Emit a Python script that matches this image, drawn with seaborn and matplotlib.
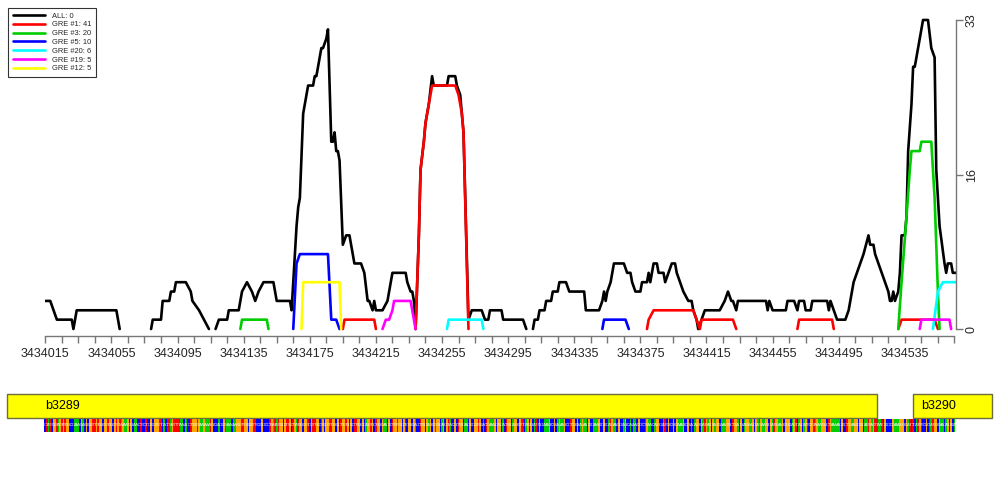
import numpy as np
import pandas as pd
import seaborn as sns
import matplotlib.pyplot as plt

# region start (genomic coordinate) - positions below are offsets from it
START = 3434015
N = None

# coverage per series, None breaks the line
all_pos = [0, 3, 5, 7, 16, 17, 19, 43, 45, N,
           64, 65, 70, 71, 75, 76, 78, 79, 85, 88, 89, 93, 96, 99, N,
           103, 105, 110, 111, 117, 119, 122, 125, 127, 129, 132, 138, 140, 148, 149, 150,
           152, 153, 154, 156, 157, 159, 162, 163, 164, 167, 168, 170, 171, 173, 174, 175,
           176, 177, 178, 180, 182, 184, 187, 191, 193, 195, 196, 198, 199, 200, 204, 207,
           210, 218, 219, 221, 222, 223, 224, 226, 227, 229, 230, 232, 234, 235, 243, 244,
           248, 249, 251, 253, 256, 258, 264, 266, 268, 269, 276, 277, 289, 291, N,
           295, 296, 298, 299, 302, 303, 306, 307, 310, 311, 315, 317, 326, 327, 335, 337,
           338, 339, 340, 342, 344, 350, 352, 354, 355, 357, 360, 361, 364, 365, 366, 367,
           368, 370, 371, 374, 375, 377, 379, 381, 382, 384, 386, 389, 391, 392, 394, 395,
           397, 399, 408, 411, 413, 415, 416, 418, 419, 436, 437, 438, 440, 448, 449, 453,
           455, 456, 459, 460, 463, 464, 473, 474, 475, 477, 479, 484, 486, 488, 489, 491,
           493, 495, 498, 499, 501, 502, 504, 506, 508, 510, 511, 512, 513, 514, 516, 517,
           518, 520, 521, 522, 524, 525, 526, 528, 529, 531, 534, 536, 538, 539, 541, 544,
           545, 546, 548, 549, 551]
all_val = [3, 3, 2, 1, 1, 0, 2, 2, 0, N,
           0, 1, 1, 3, 3, 4, 4, 5, 5, 4, 3, 2, 1, 0, N,
           0, 1, 1, 2, 2, 4, 5, 4, 3, 4, 5, 5, 3, 3, 2, 5,
           11, 13, 14, 23, 24, 26, 26, 27, 27, 30, 30, 31, 32, 20, 20, 21,
           19, 19, 18, 9, 10, 10, 7, 7, 6, 3, 3, 2, 3, 2, 2, 3,
           6, 6, 5, 4, 4, 3, 0, 10, 17, 20, 22, 24, 27, 26, 26, 27,
           27, 26, 25, 21, 1, 2, 2, 1, 1, 2, 2, 1, 1, 0, N,
           0, 1, 1, 2, 2, 3, 3, 4, 4, 5, 5, 4, 4, 2, 2, 3,
           4, 3, 4, 5, 7, 7, 6, 6, 5, 4, 4, 5, 5, 6, 5, 6,
           7, 7, 6, 6, 5, 6, 7, 7, 6, 5, 4, 3, 3, 2, 1, 0,
           1, 2, 2, 3, 4, 3, 3, 2, 3, 3, 2, 3, 2, 2, 3, 3,
           2, 3, 3, 2, 2, 3, 3, 2, 3, 2, 1, 1, 2, 4, 5, 6,
           7, 8, 10, 9, 9, 8, 7, 6, 5, 4, 3, 3, 4, 3, 4, 6,
           10, 10, 12, 19, 24, 28, 28, 30, 31, 33, 33, 30, 29, 17, 11, 7,
           6, 7, 7, 6, 6]

gre1_pos = [180, 181, 199, 200, N, 224, 226, 227, 229, 230, 232, 234, 248, 250, 252, 253, 256, N,
            364, 365, 368, 392, 394, 396, 397, 416, 418, N, 455, 456, 476, 477, N, 516, 518, 538, 540]
gre1_val = [0, 1, 1, 0, N, 0, 10, 17, 20, 22, 24, 26, 26, 25, 23, 21, 0, N,
            0, 1, 2, 2, 1, 0, 1, 1, 0, N, 0, 1, 1, 0, N, 0, 1, 1, 0]

gre3_pos = [118, 119, 134, 135, N, 516, 518, 521, 523, 524, 529, 530, 536, 538, 540, 541]
gre3_val = [0, 1, 1, 0, N, 0, 5, 12, 17, 19, 19, 20, 20, 14, 4, 0]

gre5_pos = [150, 152, 154, 171, 173, 176, 178, N, 337, 338, 351, 353]
gre5_val = [0, 7, 8, 8, 1, 1, 0, N, 0, 1, 1, 0]

gre20_pos = [243, 244, 264, 265, N, 537, 540, 543, 551]
gre20_val = [0, 1, 1, 0, N, 0, 4, 5, 5]

gre19_pos = [204, 206, 208, 210, 211, 221, 222, 224, N, 529, 530, 547, 548]
gre19_val = [0, 1, 1, 2, 3, 3, 2, 0, N, 0, 1, 1, 0]

gre12_pos = [155, 156, 178, 179]
gre12_val = [0, 5, 5, 0]

series_labels = ["ALL: 0", "GRE #1: 41", "GRE #3: 20", "GRE #5: 10",
                 "GRE #20: 6", "GRE #19: 5", "GRE #12: 5"]
series_colors = ["#000000", "#FF0000", "#00CD00", "#0000FF", "#00FFFF", "#FF00FF", "#FFFF00"]

# genes and sequence under the plot
gene_names = ["b3289", "b3290"]
gene_start = [3433992, 3434540]
gene_end = [3434518, 3434588]
sequence = ("CTATCGGTAGTGTGGCCCAAACGACGCGGTTGTGGCGGTGGCGTGTAGAAGCGCAACCTCCTCCGCGGG"
            "TTCACTTAGTTTTAACACCTGGGTGAAGAAATGCCCACCGTAAACAAGGGTTGGCGGTTCCCGCCCCTGATA"
            "TGGCGTTGCTGATGGCGGTCGTTGGCTGCGGTTGGCGCTGGTGCGCTTGG"
            "CGCAGGTGCTGGCGAACGCTGGTGGCGTCGGCGACCTGGCGAGCGTGGCA"
            "GCGTACCGCTGGCAACGCCGGTGCACTGAAAGCGGCACTGGCAGGCGTTC"
            "AGCGCATCGCCAAAGCCGCAGAAGCCCTGGCGCAGAACGCCAAAGCCGCC"
            "ATGAACGCCAGCCACAACGCCCTGAACCAGGCCATCGCCGCGAAAGCCGC"
            "ACAGGCGATGAGCGAGGCAAAGGGCTGGACGCAGGAAGCGATGAAGGCGA"
            "TGGAAGCGGGCAGTCAGCAGTCGGTAGAAGGGCTGAAAAACGCCTGGAAG"
            "GCGGCAATGAGTTAATCGCCCCGAAAGGGCGATCTCATGTCCGCTATGGC"
            "GAACAGCGCA")
base_colors = {"A": "#00CD00", "C": "#0000FF", "G": "#FFA500", "T": "#FF0000"}

# long table, one "seg" per unbroken piece of line
rows = []
seg = 0
for lab, pos, val in zip(series_labels,
                         [all_pos, gre1_pos, gre3_pos, gre5_pos, gre20_pos, gre19_pos, gre12_pos],
                         [all_val, gre1_val, gre3_val, gre5_val, gre20_val, gre19_val, gre12_val]):
    seg += 1
    for p, v in zip(pos, val):
        if p is None:
            seg += 1
            continue
        rows.append({"series": lab, "pos": START + p, "val": v, "seg": seg})
df = pd.DataFrame(rows)

sns.set_style("white")
plt.rcParams["font.family"] = ["Liberation Sans", "DejaVu Sans"]

fig = plt.figure(figsize=(10, 5), dpi=100)
AX_L, AX_W = 0.0453, 0.9108
XSPAN = 551
ax = fig.add_axes([AX_L, 1 - 333.7 / 500, AX_W, (333.7 - 15.3) / 500])

sns.lineplot(data=df, x="pos", y="val", hue="series", units="seg", estimator=None,
             hue_order=series_labels, palette=dict(zip(series_labels, series_colors)),
             linewidth=1.9, ax=ax)
handles, labels = ax.get_legend_handles_labels()
ax.get_legend().remove()

ax.set_xlim(START, START + XSPAN)
ax.set_ylim(-0.5, 33.5)
ax.set_xlabel("")
ax.set_ylabel("")

axis_col = "#777777"
for s in ["top", "left"]:
    ax.spines[s].set_visible(False)
ax.spines["bottom"].set_bounds(START, START + 550)
ax.spines["bottom"].set_position(("outward", 1.7))
ax.spines["right"].set_bounds(0, 33)
for s in ["bottom", "right"]:
    ax.spines[s].set_color(axis_col)
    ax.spines[s].set_linewidth(1)

xt = np.arange(START, START + 551, 10)
ax.set_xticks(xt)
ax.set_xticklabels([str(t) if (t - START) % 40 == 0 else "" for t in xt])
ax.tick_params(axis="x", direction="out", length=5, width=1, color=axis_col,
               labelsize=9, pad=3.5, bottom=True)

ax.yaxis.tick_right()
ax.set_yticks([0, 16.5, 33])
ax.set_yticklabels(["0", "16", "33"], rotation=90, va="center")
ax.tick_params(axis="y", direction="out", length=5, width=1, color=axis_col,
               labelsize=9, pad=2, right=True, left=False)

leg = fig.legend(handles, labels, loc="upper left", bbox_to_anchor=(0.008, 0.984),
                 borderaxespad=0, frameon=True, fancybox=False, fontsize=5.4,
                 handlelength=4.3, labelspacing=0.2, borderpad=0.6, handletextpad=0.9)
leg.get_frame().set_edgecolor("#000000")
leg.get_frame().set_linewidth(0.8)
for h in leg.legend_handles:
    h.set_linewidth(1.9)

# gene track: same genomic scale as the plot, spanning the full figure width
gax = fig.add_axes([0, 1 - 436 / 500, 1, 46 / 500])
gx0 = START - AX_L * XSPAN / AX_W
gx1 = START + (1 - AX_L) * XSPAN / AX_W
gax.set_xlim(gx0, gx1)
gax.set_ylim(0, 46)
gax.axis("off")

for name, s, e in zip(gene_names, gene_start, gene_end):
    gax.barh(30, e - s, left=s, height=24, color="#FFFF00", edgecolor="#6e6e3c", linewidth=1)
    gax.text(max(s + 5, START), 30, name, fontsize=9, va="center", ha="left", color="black")

bx = START + np.arange(len(sequence))
gax.bar(bx, 13, bottom=4, width=1, color=[base_colors[b] for b in sequence], linewidth=0)
for x, b in zip(bx, sequence):
    gax.text(x, 10.5, b, fontsize=3.2, color="white", alpha=0.75, ha="center", va="center")

fig.savefig("out.png", dpi=100)
